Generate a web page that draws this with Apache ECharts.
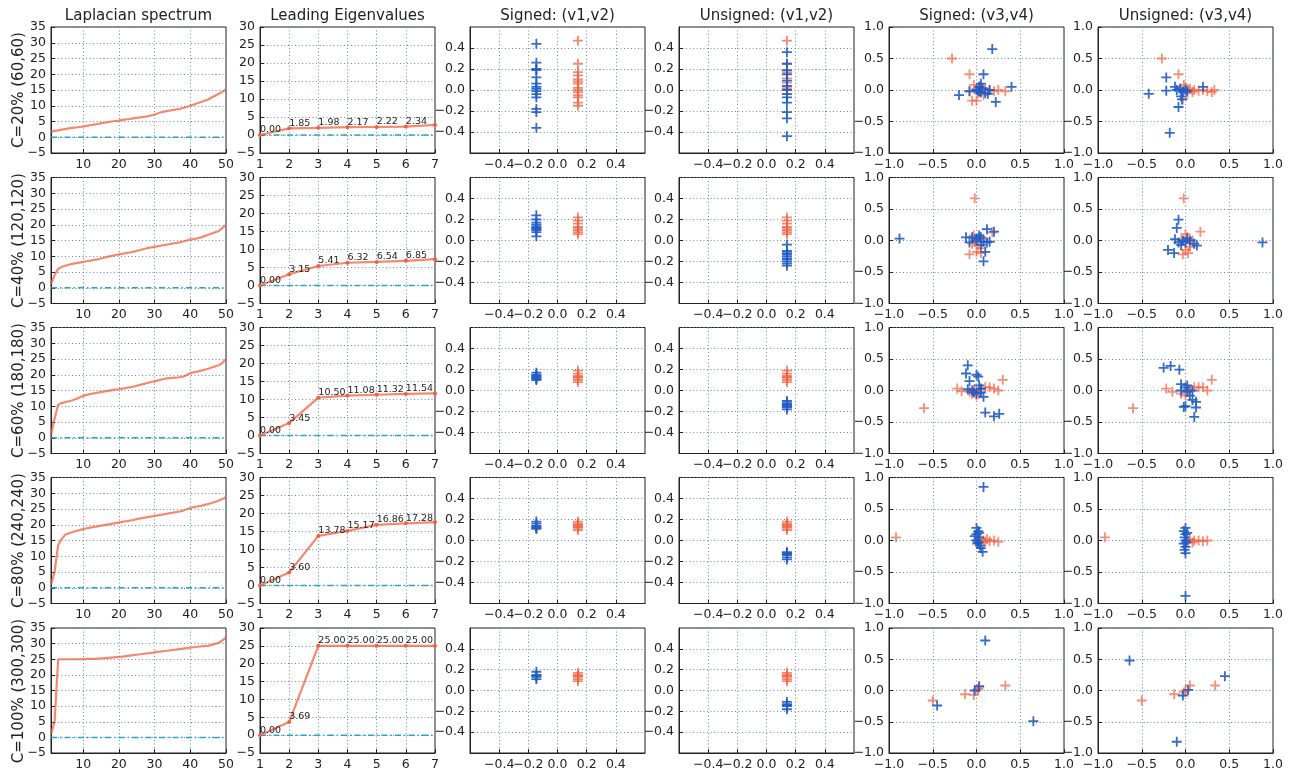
<!DOCTYPE html>
<html><head><meta charset="utf-8">
<script src="https://cdn.jsdelivr.net/npm/echarts@6/dist/echarts.min.js"></script>
<style>html,body{margin:0;padding:0;background:#fff}#c{width:1293px;height:771px}</style>
</head><body><div id="c"></div><script>
// ---------- text ----------
const colTitles = ['Laplacian spectrum','Leading Eigenvalues','Signed: (v1,v2)','Unsigned: (v1,v2)','Signed: (v3,v4)','Unsigned: (v3,v4)'];
const rowLabels = ['C=20% (60,60)','C=40% (120,120)','C=60% (180,180)','C=80% (240,240)','C=100% (300,300)'];

// ---------- Laplacian spectrum (50 smallest eigenvalues) ----------
const spec20 = [1.8,2.0,2.2,2.4,2.6,2.8,2.95,3.1,3.25,3.4,3.6,3.8,4.0,4.2,4.4,4.6,4.8,5.0,5.15,5.3,5.5,5.65,5.8,6.0,6.15,6.3,6.45,6.6,6.9,7.2,7.6,8.0,8.2,8.4,8.6,8.8,9.0,9.3,9.6,10.0,10.4,10.8,11.2,11.6,12.0,12.6,13.2,13.8,14.4,15.3];
const spec40 = [1.2,4.0,6.0,6.6,7.0,7.3,7.6,7.8,8.0,8.2,8.4,8.6,8.8,9.0,9.3,9.6,9.9,10.1,10.4,10.6,10.8,11.0,11.2,11.4,11.7,12.0,12.3,12.6,12.8,13.0,13.2,13.4,13.6,13.8,14.0,14.2,14.4,14.7,15.0,15.3,15.5,15.7,16.0,16.4,16.8,17.2,17.6,18.0,19.0,20.0];
const spec60 = [0.8,6.0,10.5,11.0,11.3,11.6,11.9,12.3,12.8,13.3,13.6,13.9,14.1,14.3,14.5,14.7,14.9,15.1,15.3,15.4,15.6,15.8,16.0,16.2,16.5,16.8,17.1,17.4,17.7,17.9,18.2,18.5,18.8,18.9,19.0,19.1,19.2,19.4,19.9,20.5,20.8,21.0,21.3,21.6,21.9,22.3,22.7,23.0,23.8,25.0];
const spec80 = [1.0,5.0,13.5,15.5,16.8,17.3,17.7,18.0,18.3,18.6,18.9,19.1,19.3,19.5,19.7,19.9,20.1,20.3,20.5,20.7,20.9,21.1,21.3,21.5,21.8,22.0,22.2,22.4,22.6,22.8,23.0,23.2,23.4,23.6,23.8,24.0,24.2,24.5,24.9,25.3,25.6,25.8,26.0,26.3,26.6,26.9,27.3,27.7,28.2,28.8];
const spec100 = [1.0,5.0,25.0,25.0,25.0,25.0,25.0,25.0,25.0,25.05,25.1,25.1,25.15,25.2,25.25,25.35,25.45,25.55,25.65,25.75,25.85,26.0,26.15,26.3,26.45,26.6,26.75,26.9,27.05,27.2,27.35,27.5,27.65,27.8,27.95,28.1,28.25,28.4,28.55,28.7,28.85,29.0,29.1,29.2,29.3,29.6,29.9,30.3,31.0,32.0];

// ---------- leading eigenvalues (indices 1..7) ----------
const lead20 = [0.00,1.85,1.98,2.17,2.22,2.34,2.80];
const lead40 = [0.00,3.15,5.41,6.32,6.54,6.85,7.30];
const lead60 = [0.00,3.45,10.50,11.08,11.32,11.54,11.70];
const lead80 = [0.00,3.60,13.78,15.17,16.86,17.28,17.60];
const lead100 = [0.00,3.69,25.00,25.00,25.00,25.00,25.00];
const leadLabelCount = 6;

// ---------- (v1,v2) embeddings ----------
const v1SignedBlue = -0.145;
const v1SignedRed = 0.14;
const v1Unsigned = 0.14;
const v2SignedBlue20 = [0.44,0.26,0.20,0.19,0.12,0.06,0.03,0.01,-0.01,-0.04,-0.07,-0.18,-0.21,-0.36];
const v2SignedRed20 = [0.47,0.25,0.17,0.14,0.10,0.08,0.06,0.02,0.00,-0.02,-0.05,-0.07,-0.12,-0.15];
const v2UnsignedBlue20 = [0.36,0.25,0.19,0.15,0.09,0.04,0.00,-0.04,-0.07,-0.12,-0.21,-0.27,-0.44];
const v2UnsignedRed20 = [0.47,0.25,0.17,0.11,0.07,0.03,0.01,-0.04];
const v2SignedBlue40 = [0.24,0.20,0.17,0.15,0.13,0.12,0.11,0.10,0.08,0.04];
const v2SignedRed40 = [0.22,0.19,0.16,0.13,0.12,0.10,0.08,0.06];
const v2UnsignedBlue40 = [-0.04,-0.10,-0.12,-0.13,-0.15,-0.17,-0.18,-0.20,-0.22,-0.24];
const v2UnsignedRed40 = [0.22,0.19,0.16,0.13,0.12,0.10,0.08,0.06];
const v2SignedBlue60 = [0.17,0.15,0.14,0.13,0.12,0.11,0.10];
const v2SignedRed60 = [0.19,0.16,0.14,0.13,0.12,0.10,0.08];
const v2UnsignedBlue60 = [-0.10,-0.12,-0.13,-0.14,-0.15,-0.16,-0.18];
const v2UnsignedRed60 = [0.19,0.16,0.14,0.13,0.12,0.10,0.08];
const v2SignedBlue80 = [0.18,0.16,0.14,0.13,0.12,0.11];
const v2SignedRed80 = [0.18,0.16,0.15,0.14,0.13,0.12,0.10];
const v2UnsignedBlue80 = [-0.11,-0.12,-0.13,-0.14,-0.16,-0.18];
const v2UnsignedRed80 = [0.18,0.16,0.15,0.14,0.13,0.12,0.10];
const v2SignedBlue100 = [0.18,0.15,0.14,0.13,0.11];
const v2SignedRed100 = [0.17,0.15,0.14,0.13,0.11,0.09];
const v2UnsignedBlue100 = [-0.11,-0.13,-0.14,-0.15,-0.18];
const v2UnsignedRed100 = [0.17,0.15,0.14,0.13,0.11,0.09];

// ---------- (v3,v4) embeddings ----------
const v34SignedRed20 = [[-0.28,0.50],[-0.08,0.25],[-0.05,-0.17],[0.00,-0.17],[-0.08,-0.02],[0.10,0.02],[0.15,0.00],[0.20,-0.02],[0.25,0.00],[0.33,-0.02],[0.05,0.05],[0.00,0.02],[0.02,-0.05],[0.08,-0.08],[-0.03,0.08]];
const v34SignedBlue20 = [[0.18,0.65],[0.08,0.25],[0.05,0.10],[0.03,0.05],[-0.20,-0.08],[-0.08,-0.02],[0.00,0.00],[0.02,-0.02],[0.05,-0.04],[0.10,-0.05],[0.13,-0.06],[0.22,-0.19],[0.40,0.05],[0.15,0.00],[0.07,0.03],[0.04,-0.02]];
const v34UnsignedRed20 = [[-0.27,0.50],[-0.08,0.25],[-0.03,-0.15],[0.00,0.05],[0.05,0.02],[0.10,0.00],[0.15,-0.01],[0.20,0.00],[0.25,-0.02],[0.33,0.00],[0.30,-0.03],[0.08,-0.03],[-0.02,0.08],[0.02,-0.05]];
const v34UnsignedBlue20 = [[-0.18,-0.68],[-0.42,-0.06],[-0.22,0.20],[-0.22,-0.01],[-0.12,0.05],[-0.08,-0.27],[-0.05,-0.10],[-0.03,-0.03],[0.00,0.00],[0.20,0.05],[-0.10,0.00],[-0.04,-0.15],[0.02,-0.02],[-0.06,0.02]];
const v34SignedRed40 = [[-0.02,0.67],[-0.08,-0.22],[0.00,-0.18],[0.05,-0.12],[-0.05,-0.05],[0.03,0.05],[0.08,0.02],[0.02,-0.08],[-0.02,-0.02],[0.05,-0.20],[0.18,0.13],[-0.03,0.08]];
const v34SignedBlue40 = [[-0.88,0.03],[-0.12,0.05],[-0.08,-0.03],[-0.05,0.05],[0.00,0.00],[0.03,0.08],[0.05,0.05],[0.08,-0.02],[0.12,0.18],[0.20,0.14],[0.12,-0.03],[0.10,-0.18],[0.08,-0.33],[0.15,-0.02],[0.05,-0.07],[0.00,0.03]];
const v34UnsignedRed40 = [[-0.02,0.67],[0.17,0.14],[0.00,0.10],[0.02,0.05],[0.05,-0.05],[0.00,-0.15],[-0.03,-0.22],[0.03,-0.20],[0.05,-0.10],[-0.05,0.00],[0.08,0.00]];
const v34UnsignedBlue40 = [[0.88,-0.03],[-0.08,0.33],[-0.10,0.20],[-0.12,0.02],[-0.20,-0.15],[-0.13,-0.20],[-0.05,-0.07],[-0.03,0.00],[0.00,-0.03],[0.05,0.00],[0.10,-0.05],[0.13,-0.08],[-0.08,-0.03],[0.02,0.03]];
const v34SignedRed60 = [[-0.60,-0.28],[-0.22,0.03],[-0.17,-0.01],[-0.05,-0.05],[0.00,-0.08],[-0.03,0.02],[0.05,0.02],[0.10,0.05],[0.15,0.05],[0.20,0.03],[0.25,0.00],[0.30,0.17],[0.03,-0.05],[-0.08,-0.02],[0.00,0.00]];
const v34SignedBlue60 = [[-0.10,0.40],[-0.12,0.27],[-0.08,0.15],[0.00,0.25],[0.02,0.22],[-0.05,0.00],[0.00,-0.05],[0.05,0.03],[0.08,-0.10],[0.10,-0.35],[0.20,-0.41],[0.26,-0.37],[-0.10,0.02],[0.03,0.08],[0.05,-0.03],[-0.03,-0.03]];
const v34UnsignedRed60 = [[-0.60,-0.28],[-0.22,0.03],[-0.15,-0.02],[-0.05,-0.05],[0.05,0.00],[0.10,0.05],[0.15,0.05],[0.20,0.05],[0.25,0.00],[0.30,0.17],[0.00,-0.08],[0.03,0.02]];
const v34UnsignedBlue60 = [[-0.25,0.36],[-0.17,0.39],[-0.07,0.33],[-0.05,0.10],[0.00,0.05],[0.02,-0.02],[0.05,-0.08],[0.08,-0.15],[0.00,-0.25],[-0.02,-0.26],[0.12,-0.18],[0.12,-0.27],[0.10,-0.42],[-0.05,0.00],[0.08,0.00],[0.02,0.08]];
const v34SignedRed80 = [[-0.92,0.05],[0.05,0.02],[0.08,0.00],[0.12,0.02],[0.15,-0.01],[0.20,0.00],[0.25,-0.02],[0.00,0.00],[0.03,-0.03],[0.10,-0.02]];
const v34SignedBlue80 = [[0.08,0.85],[0.00,0.20],[0.02,0.15],[0.00,0.10],[0.03,0.05],[0.00,0.00],[0.02,-0.03],[0.04,-0.08],[0.05,-0.12],[0.07,-0.18],[-0.02,0.07],[0.01,-0.05],[0.03,0.12]];
const v34UnsignedRed80 = [[-0.92,0.05],[0.05,0.02],[0.10,0.00],[0.15,0.00],[0.20,-0.01],[0.25,0.00],[0.03,-0.02],[0.08,-0.03]];
const v34UnsignedBlue80 = [[0.00,-0.88],[0.00,0.20],[-0.02,0.15],[0.00,0.10],[-0.01,0.05],[0.00,0.00],[-0.02,-0.05],[0.00,-0.10],[-0.01,-0.15],[0.00,-0.20],[0.02,0.12],[0.01,-0.03]];
const v34SignedRed100 = [[-0.50,-0.16],[-0.13,-0.06],[-0.03,-0.07],[0.01,0.01],[0.03,0.05],[0.33,0.08],[0.02,0.03]];
const v34SignedBlue100 = [[0.10,0.80],[-0.45,-0.24],[0.65,-0.49],[-0.02,0.00],[0.03,0.07]];
const v34UnsignedRed100 = [[-0.50,-0.16],[-0.13,-0.06],[0.05,0.08],[0.34,0.08],[0.00,0.00],[-0.02,-0.03]];
const v34UnsignedBlue100 = [[-0.64,0.48],[0.45,0.23],[-0.10,-0.82],[-0.03,-0.08],[0.03,0.01]];

// ---------- assembly ----------
const specRows = [spec20,spec40,spec60,spec80,spec100];
const leadRows = [lead20,lead40,lead60,lead80,lead100];
const v2SB = [v2SignedBlue20,v2SignedBlue40,v2SignedBlue60,v2SignedBlue80,v2SignedBlue100];
const v2SR = [v2SignedRed20,v2SignedRed40,v2SignedRed60,v2SignedRed80,v2SignedRed100];
const v2UB = [v2UnsignedBlue20,v2UnsignedBlue40,v2UnsignedBlue60,v2UnsignedBlue80,v2UnsignedBlue100];
const v2UR = [v2UnsignedRed20,v2UnsignedRed40,v2UnsignedRed60,v2UnsignedRed80,v2UnsignedRed100];
const v34SR = [v34SignedRed20,v34SignedRed40,v34SignedRed60,v34SignedRed80,v34SignedRed100];
const v34SB = [v34SignedBlue20,v34SignedBlue40,v34SignedBlue60,v34SignedBlue80,v34SignedBlue100];
const v34UR = [v34UnsignedRed20,v34UnsignedRed40,v34UnsignedRed60,v34UnsignedRed80,v34UnsignedRed100];
const v34UB = [v34UnsignedBlue20,v34UnsignedBlue40,v34UnsignedBlue60,v34UnsignedBlue80,v34UnsignedBlue100];

const FONT = 'DejaVu Sans';
const RED = '#f2603f';
const BLUE = '#1f5cc4';
const TEAL = '#22a7c4';
const GRIDC = '#6f8aa6';
const lefts = [51,260,470,679,889,1098];
const tops = [27,177.5,327.5,477.5,628];
const W = 175, H = 126;
const PLUS = 'path://M0,4.1H10V5.9H0Z M4.1,0H5.9V10H4.1Z';

function fmt(v){ if (Math.abs(v) < 1e-9) v = 0; return String(v).replace('-', '\u2212'); }
function fmt1(v){ if (Math.abs(v) < 1e-9) v = 0; return v.toFixed(1).replace('-', '\u2212'); }

function axisBase(){
  return {
    type:'value',
    axisLine:{show:true, onZero:false, lineStyle:{color:'#222', width:1}},
    axisTick:{show:true, inside:true, length:4, lineStyle:{color:'#222'}},
    splitLine:{show:true, lineStyle:{color:GRIDC, type:[1,2.5], width:1}},
    axisLabel:{fontFamily:FONT, fontSize:12.5, color:'#222', margin:5}
  };
}

const grids = [], xAxes = [], yAxes = [], series = [], graphics = [];
for (let r = 0; r < 5; r++) {
  for (let c = 0; c < 6; c++) {
    const g = r*6 + c;
    grids.push({left:lefts[c], top:tops[r], width:W, height:H, show:true, borderColor:'#222', borderWidth:1, backgroundColor:'#fff'});
    const xa = axisBase(), ya = axisBase();
    xa.gridIndex = g; ya.gridIndex = g;
    if (c === 0) {
      Object.assign(xa, {min:1, max:50, splitNumber:5});
      xa.axisLabel.showMinLabel = false; xa.axisLabel.formatter = fmt;
      Object.assign(ya, {min:-5, max:35, interval:5});
      ya.axisLabel.formatter = fmt;
    } else if (c === 1) {
      Object.assign(xa, {min:1, max:7, interval:1});
      xa.axisLabel.formatter = fmt;
      Object.assign(ya, {min:-5, max:30, interval:5});
      ya.axisLabel.formatter = fmt;
    } else if (c === 2 || c === 3) {
      Object.assign(xa, {min:-0.6, max:0.6, interval:0.2});
      Object.assign(ya, {min:-0.6, max:0.6, interval:0.2});
      [xa, ya].forEach(a => { a.axisLabel.showMinLabel = false; a.axisLabel.showMaxLabel = false; a.axisLabel.formatter = fmt1; });
    } else {
      Object.assign(xa, {min:-1, max:1, interval:0.5});
      Object.assign(ya, {min:-1, max:1, interval:0.5});
      [xa, ya].forEach(a => { a.axisLabel.formatter = fmt1; });
    }
    xAxes.push(xa); yAxes.push(ya);

    const base = {xAxisIndex:g, yAxisIndex:g, animation:false, silent:true};
    if (c === 0) {
      const vals = specRows[r];
      series.push(Object.assign({type:'line', data:[[1,0],[vals.length,0]], symbol:'none',
        lineStyle:{color:TEAL, width:1.5, type:[6,3,1.5,3]}}, base));
      series.push(Object.assign({type:'line', data:vals.map((v,i)=>[i+1, v]), showSymbol:false, symbol:'none',
        lineStyle:{color:RED, width:2.2, opacity:0.75}}, base));
    } else if (c === 1) {
      const vals = leadRows[r];
      series.push(Object.assign({type:'line', data:[[1,0],[vals.length,0]], symbol:'none',
        lineStyle:{color:TEAL, width:1.5, type:[6,3,1.5,3]}}, base));
      series.push(Object.assign({type:'line',
        data:vals.map((v,i)=>({value:[i+1, v], label:{show:i < leadLabelCount}})),
        symbol:'circle', symbolSize:4, showSymbol:true,
        itemStyle:{color:RED},
        lineStyle:{color:RED, width:2.2, opacity:0.75},
        label:{show:true, position:[2,2], align:'left', verticalAlign:'bottom',
          fontFamily:FONT, fontSize:9.5, color:'#222',
          formatter:p => p.value[1].toFixed(2)}}, base));
    } else if (c === 2 || c === 3) {
      const reds = c === 2 ? v2SR[r] : v2UR[r];
      const blues = c === 2 ? v2SB[r] : v2UB[r];
      const xr = c === 2 ? v1SignedRed : v1Unsigned;
      const xb = c === 2 ? v1SignedBlue : v1Unsigned;
      series.push(Object.assign({type:'scatter', data:reds.map(y=>[xr,y]), symbol:PLUS, symbolSize:10,
        itemStyle:{color:RED, opacity:0.75}}, base));
      series.push(Object.assign({type:'scatter', data:blues.map(y=>[xb,y]), symbol:PLUS, symbolSize:10,
        itemStyle:{color:BLUE, opacity:0.9}}, base));
    } else {
      const reds = c === 4 ? v34SR[r] : v34UR[r];
      const blues = c === 4 ? v34SB[r] : v34UB[r];
      series.push(Object.assign({type:'scatter', data:reds, symbol:PLUS, symbolSize:10,
        itemStyle:{color:RED, opacity:0.7}}, base));
      series.push(Object.assign({type:'scatter', data:blues, symbol:PLUS, symbolSize:10,
        itemStyle:{color:BLUE, opacity:0.9}}, base));
    }
  }
}

colTitles.forEach((t, c) => {
  graphics.push({type:'text', x:lefts[c] + W/2, y:16, silent:true,
    style:{text:t, fontFamily:FONT, fontSize:15, fill:'#222', align:'center', verticalAlign:'middle'}});
});
rowLabels.forEach((t, r) => {
  graphics.push({type:'text', x:19, y:tops[r] + H/2, rotation:Math.PI/2, silent:true,
    style:{text:t, fontFamily:FONT, fontSize:15, fill:'#222', align:'center', verticalAlign:'middle'}});
});

const chart = echarts.init(document.getElementById('c'), null, {renderer:'canvas'});
chart.setOption({
  backgroundColor:'#fff',
  animation:false,
  grid:grids, xAxis:xAxes, yAxis:yAxes, series:series, graphic:graphics
});
</script></body></html>
